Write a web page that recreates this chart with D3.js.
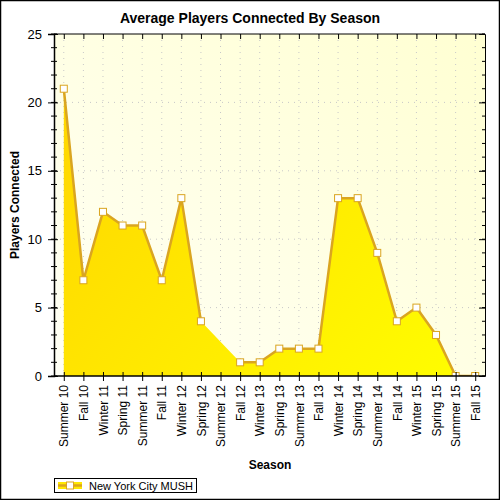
<!DOCTYPE html>
<html>
<head>
<meta charset="utf-8">
<script src="https://cdn.jsdelivr.net/npm/d3@7"></script>
<style>
  body { margin: 0; background: #fff; }
  text { font-family: Arial, "Liberation Sans", sans-serif; }
</style>
</head>
<body>
<div id="chart"></div>
<script>
// data (Summer 12 has no value)
var seasons = ["Summer 10", "Fall 10", "Winter 11", "Spring 11", "Summer 11", "Fall 11",
  "Winter 12", "Spring 12", "Summer 12", "Fall 12", "Winter 13", "Spring 13", "Summer 13",
  "Fall 13", "Winter 14", "Spring 14", "Summer 14", "Fall 14", "Winter 15", "Spring 15",
  "Summer 15", "Fall 15"];
var players = [21, 7, 12, 11, 11, 7, 13, 4, null, 1, 1, 2, 2, 2, 13, 13, 9, 4, 5, 3, 0, 0];
var yTicks = [0, 5, 10, 15, 20, 25];
var seriesName = "New York City MUSH";

var W = 500, H = 500;
var margin = { top: 34, right: 15, bottom: 124, left: 54 },
    width = W - margin.left - margin.right,
    height = H - margin.top - margin.bottom;

var data = seasons.map(function(s, i) { return { season: s, value: players[i] }; });

var svg = d3.select("#chart").append("svg")
    .attr("width", W).attr("height", H);

var defs = svg.append("defs");
var bg = defs.append("linearGradient").attr("id", "bg")
    .attr("x1", 0).attr("y1", 1).attr("x2", 1).attr("y2", 0);
bg.append("stop").attr("offset", 0).attr("stop-color", "#fffff6");
bg.append("stop").attr("offset", 1).attr("stop-color", "#ffffd2");
var fill = defs.append("linearGradient").attr("id", "fill")
    .attr("gradientUnits", "userSpaceOnUse")
    .attr("x1", 0).attr("y1", 0).attr("x2", width).attr("y2", height);
fill.append("stop").attr("offset", 0).attr("stop-color", "#ffd200");
fill.append("stop").attr("offset", 1).attr("stop-color", "#ffff00");
defs.append("clipPath").attr("id", "clip").append("rect")
    .attr("width", width).attr("height", height);

// outer frame
svg.append("rect").attr("x", 0.5).attr("y", 0.5).attr("width", W - 1).attr("height", H - 1)
    .attr("fill", "#fff").attr("stroke", "#000").attr("stroke-width", 1.5);

svg.append("text").attr("x", 250).attr("y", 23).attr("text-anchor", "middle")
    .style("font-size", "14px").style("font-weight", "bold")
    .text("Average Players Connected By Season");

var g = svg.append("g").attr("transform", "translate(" + margin.left + "," + margin.top + ")");

var x = d3.scalePoint().domain(seasons).range([0, width]).padding(0.5);
var y = d3.scaleLinear().domain([0, 25]).range([height, 0]);

g.append("rect").attr("width", width).attr("height", height).attr("fill", "url(#bg)");

// dotted grid
g.selectAll(".vgrid").data(seasons).enter().append("line")
    .attr("x1", function(d) { return x(d); }).attr("x2", function(d) { return x(d); })
    .attr("y1", 0).attr("y2", height)
    .attr("stroke", "#c8c8c8").attr("stroke-dasharray", "1,5");
g.selectAll(".hgrid").data(yTicks.slice(1, -1)).enter().append("line")
    .attr("x1", 0).attr("x2", width)
    .attr("y1", function(d) { return y(d); }).attr("y2", function(d) { return y(d); })
    .attr("stroke", "#c8c8c8").attr("stroke-dasharray", "1,5");

var defined = data.filter(function(d) { return d.value !== null; });

var area = d3.area()
    .x(function(d) { return x(d.season); })
    .y0(height)
    .y1(function(d) { return y(d.value); });
var line = d3.line()
    .defined(function(d) { return d.value !== null; })
    .x(function(d) { return x(d.season); })
    .y(function(d) { return y(d.value); });

var plot = g.append("g").attr("clip-path", "url(#clip)");
plot.append("path").attr("d", area(defined)).attr("fill", "url(#fill)");
plot.append("path").attr("d", line(data)).attr("fill", "none")
    .attr("stroke", "#daa520").attr("stroke-width", 2.5);
plot.selectAll(".pt").data(defined).enter().append("rect")
    .attr("x", function(d) { return x(d.season) - 3.5; })
    .attr("y", function(d) { return y(d.value) - 3.5; })
    .attr("width", 7).attr("height", 7)
    .attr("fill", "#fff").attr("stroke", "#daa520").attr("stroke-width", 1);

// axes
var minor = d3.range(0, 26);
var yAxis = g.append("g").call(d3.axisLeft(y).tickValues(yTicks).tickSize(6).tickPadding(6));
yAxis.selectAll("text").style("font-size", "13px").attr("fill", "#000");
yAxis.select(".domain").attr("stroke-width", 1.5);
yAxis.selectAll(".minor").data(minor).enter().append("line").attr("class", "minor")
    .attr("x1", -3).attr("x2", 3)
    .attr("y1", function(d) { return y(d); }).attr("y2", function(d) { return y(d); })
    .attr("stroke", "#000");
yAxis.selectAll(".tick line").attr("x2", 4).attr("x1", -6);

var rAxis = g.append("g").attr("transform", "translate(" + width + ",0)")
    .call(d3.axisLeft(y).tickValues(yTicks).tickSize(6).tickFormat(""));
rAxis.selectAll(".minor").data(minor).enter().append("line").attr("class", "minor")
    .attr("x1", -3).attr("x2", 0)
    .attr("y1", function(d) { return y(d); }).attr("y2", function(d) { return y(d); })
    .attr("stroke", "#000");

var tAxis = g.append("g").call(d3.axisBottom(x).tickSize(5).tickFormat(""));
tAxis.select(".domain").attr("d", "M0,0H" + width);

var xAxis = g.append("g").attr("transform", "translate(0," + height + ")")
    .call(d3.axisBottom(x).tickSize(5).tickPadding(6));
xAxis.select(".domain").attr("d", "M0,0H" + width).attr("stroke-width", 1.5);
xAxis.selectAll(".tick line").attr("y1", -4).attr("y2", 5);
xAxis.selectAll("text")
    .style("font-size", "12px").attr("fill", "#000")
    .attr("text-anchor", "end")
    .attr("transform", "rotate(-90)")
    .attr("x", -9).attr("y", 0).attr("dy", "0.35em");

svg.append("text").attr("x", 270).attr("y", 469).attr("text-anchor", "middle")
    .style("font-size", "12px").style("font-weight", "bold").text("Season");
svg.append("text").attr("transform", "translate(19," + (margin.top + height / 2) + ") rotate(-90)")
    .attr("text-anchor", "middle")
    .style("font-size", "12px").style("font-weight", "bold").text("Players Connected");

// legend
var leg = svg.append("g").attr("transform", "translate(54,478)");
leg.append("rect").attr("x", 0.5).attr("y", 0.5).attr("width", 142).attr("height", 14)
    .attr("fill", "#fff").attr("stroke", "#000");
leg.append("rect").attr("x", 4).attr("y", 4).attr("width", 24).attr("height", 7).attr("fill", "#ffe800");
leg.append("line").attr("x1", 4).attr("x2", 28).attr("y1", 7.5).attr("y2", 7.5)
    .attr("stroke", "#daa520").attr("stroke-width", 2.5);
leg.append("rect").attr("x", 12.5).attr("y", 4).attr("width", 7).attr("height", 7)
    .attr("fill", "#fff").attr("stroke", "#daa520");
leg.append("text").attr("x", 35).attr("y", 11.5).style("font-size", "11px").text(seriesName);
</script>
</body>
</html>
